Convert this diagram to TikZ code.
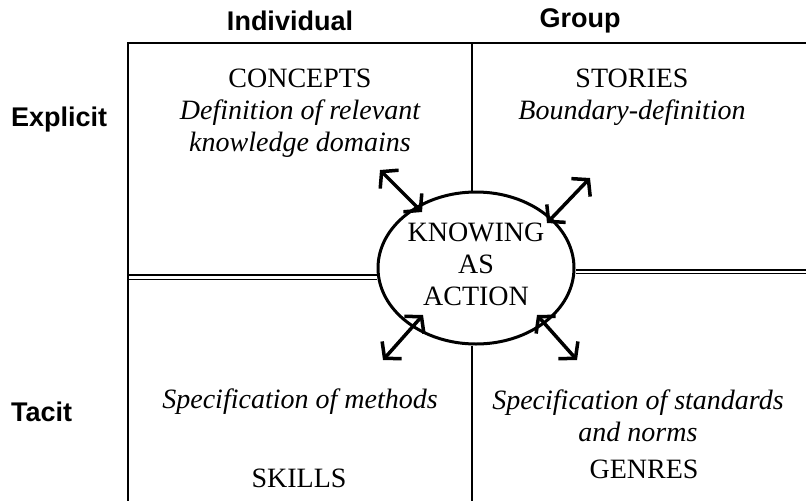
\documentclass[tikz,border=0pt]{standalone}
\usepackage{fontspec}
\setmainfont{Liberation Serif}
\setsansfont{Liberation Sans}
\usetikzlibrary{arrows.meta, shapes.geometric}

\begin{document}
\begin{tikzpicture}[x=1pt, y=-1pt,
    every node/.style={font=\fontsize{28}{32}\selectfont, align=center, inner sep=0pt},
    head/.style={font=\sffamily\bfseries\fontsize{27}{30}\selectfont},
    note/.style={font=\itshape\fontsize{28}{32}\selectfont},
    rule/.style={line width=1.5pt},
    link/.style={{Straight Barb[length=11pt,width=26pt]}-{Straight Barb[length=11pt,width=26pt]}, line width=3.5pt}]
    \useasboundingbox (0,0) rectangle (806,501);
    \node[ellipse, draw, line width=3pt, minimum width=196pt, minimum height=152pt] (core) at (476,268) {};
    \node (core text) at (476,264) {KNOWING\\AS\\ACTION};
    % frame and dividers
    \coordinate (tr) at (806,43);
    \coordinate (tl) at (128,43);
    \coordinate (bl) at (128,501);
    \coordinate (vt) at (472,43);
    \coordinate (vb) at (472,501);
    \coordinate (hl) at (128,275);
    \coordinate (hl2) at (128,279);
    \coordinate (hr) at (806,270);
    \coordinate (hr2) at (806,273);
    \draw[line width=2pt] (tr) -- (tl) -- (bl);
    \draw[rule] (vt) -- (core.north -| vt);
    \draw[rule] (core.south -| vb) -- (vb);
    \draw[line width=2.5pt] (hl) -- (hl -| core.west);
    \draw[line width=1pt] (hl2) -- (hl2 -| core.west);
    \draw[line width=2.5pt] (hr) -- (hr -| core.east);
    \draw[line width=1pt] (hr2) -- (hr2 -| core.east);
    % headings
    \node[head] (indiv) at (290,21) {Individual};
    \node[head] (group) at (580,21) {Group};
    \node[head, anchor=west] (expl) at (11,120) {Explicit};
    \node[head, anchor=west] (tacit) at (11,412) {Tacit};
    % the four fields
    \node (concepts) at (300,78) {CONCEPTS};
    \node[note] (defn) at (300,129) {Definition of relevant\\knowledge domains};
    \node (stories) at (632,78) {STORIES};
    \node[note] (bound) at (632,113) {Boundary-definition};
    \node[note] (meth) at (300,402) {Specification of methods};
    \node (skills) at (299,478) {SKILLS};
    \node[note] (stand) at (638,416) {Specification of standards\\and norms};
    \node (genres) at (644,469) {GENRES};
    % arrows between the fields and the centre
    \coordinate (a1) at (380,170);
    \coordinate (a2) at (422,212);
    \coordinate (b1) at (590,178);
    \coordinate (b2) at (547,223);
    \coordinate (c1) at (423,315);
    \coordinate (c2) at (383,360);
    \coordinate (d1) at (537,315);
    \coordinate (d2) at (577,360);
    \draw[link] (a1) -- (a2);
    \draw[link] (b1) -- (b2);
    \draw[link] (c1) -- (c2);
    \draw[link] (d1) -- (d2);
\end{tikzpicture}
\end{document}
